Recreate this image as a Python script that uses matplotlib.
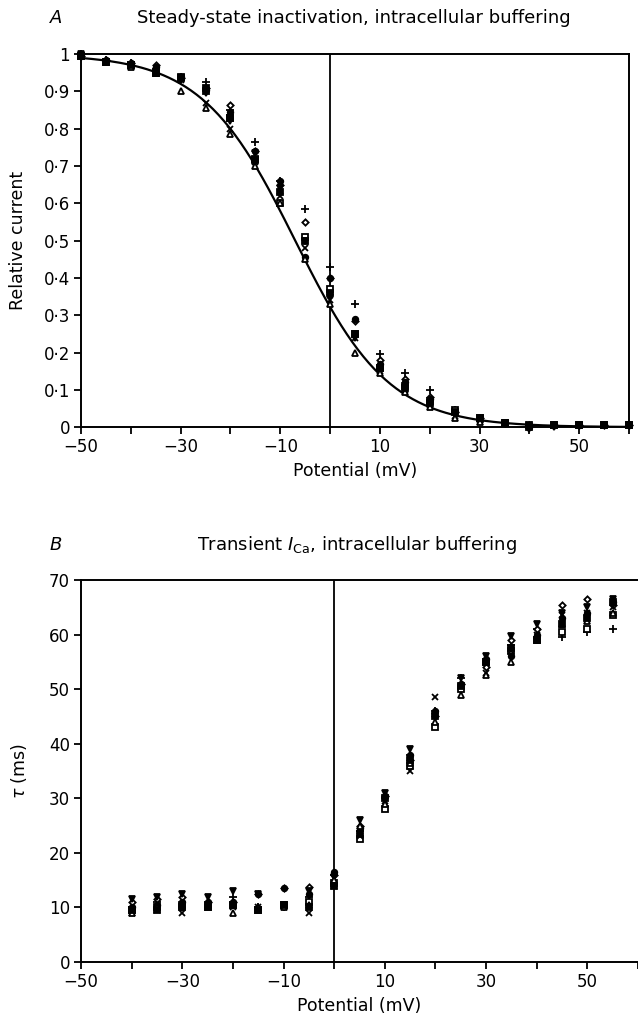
import numpy as np
import matplotlib
matplotlib.use("Agg")
import matplotlib.pyplot as plt

plt.rcParams['font.family'] = ['DejaVu Sans']
plt.rcParams['mathtext.fontset'] = 'dejavusans'

# ---- panel A data: steady-state inactivation (relative current) ----
volt_a = list(range(-50, 61, 5))
a_plus = [1.0, 0.985, 0.975, 0.96, 0.94, 0.925, 0.85, 0.765, 0.66, 0.585, 0.43, 0.33, 0.195, 0.145, 0.10, 0.045, 0.025, 0.01, 0.0, 0.005, 0.005, 0.005, 0.005]
a_diamond = [0.995, 0.985, 0.975, 0.97, 0.935, 0.91, 0.865, 0.74, 0.65, 0.55, 0.40, 0.285, 0.18, 0.13, 0.08, 0.04, 0.025, 0.01, 0.005, 0.005, 0.005, 0.005, 0.005]
a_square = [0.995, 0.98, 0.97, 0.95, 0.935, 0.90, 0.83, 0.72, 0.60, 0.51, 0.37, 0.25, 0.16, 0.11, 0.07, 0.045, 0.025, 0.01, 0.0, 0.005, 0.005, 0.005, 0.005]
a_circle = [1.0, 0.985, 0.975, 0.965, 0.94, 0.905, 0.845, 0.74, 0.66, 0.455, 0.40, 0.29, 0.17, 0.12, 0.075, 0.04, 0.02, 0.01, 0.0, 0.005, 0.005, 0.005, 0.005]
a_vtri = [1.0, 0.98, 0.97, 0.955, 0.93, 0.895, 0.82, 0.735, 0.64, 0.50, 0.35, 0.24, 0.155, 0.105, 0.065, 0.035, 0.02, 0.01, -0.005, 0.0, 0.005, 0.005, 0.005]
a_cross = [0.995, 0.98, 0.97, 0.955, 0.93, 0.87, 0.80, 0.71, 0.62, 0.48, 0.34, 0.24, 0.15, 0.10, 0.06, 0.03, 0.02, 0.01, 0.005, 0.005, 0.005, 0.005, 0.005]
a_tri = [0.995, 0.98, 0.965, 0.95, 0.90, 0.855, 0.785, 0.70, 0.60, 0.45, 0.33, 0.20, 0.145, 0.095, 0.055, 0.025, 0.015, 0.01, 0.005, 0.005, 0.005, 0.005, 0.005]
a_fsquare = [0.995, 0.98, 0.97, 0.95, 0.94, 0.91, 0.83, 0.715, 0.63, 0.50, 0.36, 0.25, 0.16, 0.105, 0.065, 0.04, 0.025, 0.01, 0.005, 0.005, 0.005, 0.005, 0.005]

# Boltzmann fit drawn through the points
v_half = -7.0
slope_k = 9.4

# ---- panel B data: time constant tau (ms) ----
volt_b = list(range(-40, 56, 5))
b_plus = [10, 11, 10, 11, 12, 10, 10, 12, 16, 24, 30, 38, 46, 52, 55, 58, 61, 59.5, 60.5, 61]
b_diamond = [11, 11.5, 12, 11, 11, 12.5, 13.5, 13.8, 16, 25, 30.5, 37, 45, 51, 54, 59, 61, 65.4, 66.6, 65.5]
b_square = [9.5, 10, 10.5, 10, 10.5, 9.5, 10.5, 11, 14.5, 22.5, 28, 36, 43, 50, 55, 57, 59, 60.5, 61, 63.5]
b_circle = [10, 10.5, 11, 11, 11, 12.5, 13.5, 12.5, 16.5, 24.5, 30.5, 38, 46, 51, 55.5, 56, 60, 63, 64, 66]
b_vtri = [11.5, 12, 12.5, 12, 13, 12.5, 10.5, 13, 15.5, 26, 31, 39, 45, 52, 56, 59.7, 62, 64, 65, 66.5]
b_cross = [9, 9.5, 9, 10, 10, 10, 10.5, 9, 14, 23, 29.5, 35, 48.5, 50.5, 53, 57, 60, 63.5, 64, 65]
b_tri = [9, 10, 10, 10.5, 9, 10, 10, 10.5, 15, 25, 29, 36.5, 44, 49, 52.5, 55, 59, 62, 62.5, 64]
b_fsquare = [9.5, 9.5, 10, 10, 10.5, 9.5, 10.5, 10, 14, 23.5, 30, 37, 45, 50.5, 55, 57.5, 59, 62, 63, 66]

x_ticks = list(range(-50, 61, 10))
x_labels = ['\u221250', '', '\u221230', '', '\u221210', '', '10', '', '30', '', '50', '']

styles = [('+', 'k', 'k'), ('D', 'white', 'k'), ('s', 'white', 'k'), ('o', 'k', 'k'),
          ('v', 'k', 'k'), ('x', 'k', 'k'), ('^', 'white', 'k'), ('s', 'k', 'k')]
sizes = [5.5, 3.2, 4.0, 4.0, 4.2, 4.5, 4.2, 4.0]


def draw_points(ax, xs, series):
    for ys, (m, fc, ec), ms in zip(series, styles, sizes):
        ax.plot(xs, ys, linestyle='none', marker=m, markersize=ms,
                markerfacecolor=fc, markeredgecolor=ec, markeredgewidth=1.3,
                color='k', clip_on=False, zorder=3)


def style_axes(ax):
    for s in ax.spines.values():
        s.set_linewidth(1.4)
    ax.tick_params(direction='out', length=5, width=1.3, labelsize=12, pad=3)
    ax.set_xticks(x_ticks)
    ax.set_xticklabels(x_labels)


fig = plt.figure(figsize=(6.38, 10.22), dpi=100)

# ----- panel A -----
ax1 = fig.add_axes([0.127, 0.582, 0.859, 0.365])
vv = np.linspace(-50, 60, 300)
ax1.plot(vv, 1.0 / (1.0 + np.exp((vv - v_half) / slope_k)), color='k', lw=1.6, zorder=2)
draw_points(ax1, volt_a, [a_plus, a_diamond, a_square, a_circle, a_vtri, a_cross, a_tri, a_fsquare])
ax1.axvline(0, color='k', lw=1.3)
ax1.set_xlim(-50, 60)
ax1.set_ylim(0, 1)
style_axes(ax1)
yt = np.round(np.arange(0, 1.01, 0.1), 1)
ax1.set_yticks(yt)
ax1.set_yticklabels(['0'] + ['0\u00b7%d' % i for i in range(1, 10)] + ['1'])
ax1.set_xlabel('Potential (mV)', fontsize=12.5, labelpad=4)
ax1.set_ylabel('Relative current', fontsize=12.5, labelpad=12)
fig.text(0.078, 0.982, 'A', fontsize=13, style='italic', va='center')
fig.text(0.555, 0.982, 'Steady-state inactivation, intracellular buffering',
         fontsize=13, ha='center', va='center')

# ----- panel B -----
ax2 = fig.add_axes([0.127, 0.0587, 0.873, 0.3738])
draw_points(ax2, volt_b, [b_plus, b_diamond, b_square, b_circle, b_vtri, b_cross, b_tri, b_fsquare])
ax2.axvline(0, color='k', lw=1.3)
ax2.set_xlim(-50, 59.2)
ax2.set_ylim(0, 70)
ax2.spines['right'].set_visible(False)
style_axes(ax2)
ax2.set_yticks(range(0, 71, 10))
ax2.set_xlabel('Potential (mV)', fontsize=12.5, labelpad=4)
ax2.set_ylabel(r'$\mathit{\tau}$ (ms)', fontsize=12.5, labelpad=14)
fig.text(0.078, 0.467, 'B', fontsize=13, style='italic', va='center')
fig.text(0.56, 0.467, r'Transient $\mathit{I}_{\mathrm{Ca}}$, intracellular buffering',
         fontsize=13, ha='center', va='center')

fig.savefig('out.png', dpi=100)
